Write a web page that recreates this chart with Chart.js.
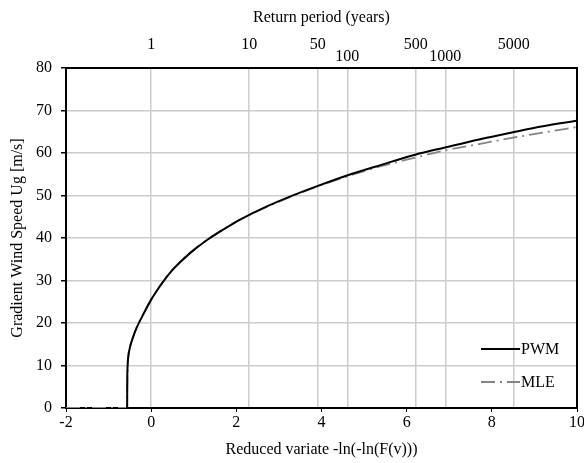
<!DOCTYPE html>
<html>
<head>
<meta charset="utf-8">
<script src="https://cdn.jsdelivr.net/npm/chart.js@4/dist/chart.umd.min.js"></script>
<style>
  html, body { margin: 0; padding: 0; background: #fff; }
  #wrap { width: 584px; height: 463px; }
</style>
</head>
<body>
<div id="wrap"><canvas id="gumbelChart" width="584" height="463"></canvas></div>
<script>
// reduced variate and gradient wind speed
const variatePwm = [-0.564, -0.562, -0.555, -0.54, -0.50, -0.43, -0.34, -0.16, 0, 0.21, 0.33, 0.53, 0.92, 1.32, 1.71, 2.1, 2.58, 3.3, 3.9, 4.6, 5.4, 6.2, 6.9, 7.7, 8.5, 9.2, 10];
const speedPwm = [0, 5.5, 9.5, 11.8, 14.2, 16.5, 18.9, 22.5, 25.5, 28.7, 30.4, 32.8, 36.5, 39.6, 42.1, 44.4, 46.8, 49.9, 52.2, 54.7, 57.2, 59.6, 61.3, 63.2, 64.9, 66.3, 67.6];

const variateMle = [-2, -0.566, -0.564, -0.56, -0.553, -0.54, -0.50, -0.43, -0.34, -0.16, 0, 0.21, 0.33, 0.53, 0.92, 1.32, 1.71, 2.1, 2.58, 3.3, 3.9, 4.6, 5.4, 6.2, 6.9, 7.7, 8.5, 9.2, 10];
const speedMle = [0, 0, 3, 6, 9, 11.9, 14.3, 16.6, 19.0, 22.6, 25.6, 28.8, 30.5, 32.9, 36.6, 39.6, 42.1, 44.4, 46.7, 49.8, 52.1, 54.5, 56.9, 58.9, 60.6, 62.1, 63.6, 64.8, 66.1];

// return periods shown on the top axis
const returnPeriods = [1, 10, 50, 100, 500, 1000, 5000];
const loweredPeriods = [100, 1000];

const serif = "'Liberation Serif', 'Times New Roman', serif";
const toPoints = (xs, ys) => xs.map((x, i) => ({ x: x, y: ys[i] }));

// black frame round the plot area
const frame = {
    id: 'frame',
    beforeDatasetsDraw(chart) {
        const a = chart.chartArea;
        const ctx = chart.ctx;
        ctx.save();
        ctx.strokeStyle = '#000';
        ctx.lineWidth = 2;
        ctx.strokeRect(a.left, a.top, a.right - a.left, a.bottom - a.top);
        ctx.restore();
    }
};

// legend inside the bottom right corner
const innerLegend = {
    id: 'innerLegend',
    afterDatasetsDraw(chart) {
        const a = chart.chartArea;
        const ctx = chart.ctx;
        ctx.save();
        ctx.font = '16px ' + serif;
        ctx.textBaseline = 'middle';
        ctx.fillStyle = '#000';
        chart.data.datasets.forEach((ds, i) => {
            const y = a.bottom - 59 + i * 33;
            ctx.beginPath();
            ctx.setLineDash(ds.borderDash || []);
            ctx.strokeStyle = ds.borderColor;
            ctx.lineWidth = ds.borderWidth;
            ctx.moveTo(a.right - 96, y);
            ctx.lineTo(a.right - 57, y);
            ctx.stroke();
            ctx.setLineDash([]);
            ctx.fillText(ds.label, a.right - 56, y + 1);
        });
        ctx.restore();
    }
};

new Chart(document.getElementById('gumbelChart'), {
    type: 'line',
    data: {
        datasets: [{
            label: 'PWM',
            data: toPoints(variatePwm, speedPwm),
            borderColor: '#000',
            borderWidth: 2,
            pointRadius: 0,
            cubicInterpolationMode: 'monotone',
            xAxisID: 'x',
        }, {
            label: 'MLE',
            data: toPoints(variateMle, speedMle),
            borderColor: '#858585',
            borderWidth: 1.8,
            borderDash: [14, 5, 2, 5],
            pointRadius: 0,
            cubicInterpolationMode: 'monotone',
            xAxisID: 'x',
        }]
    },
    options: {
        responsive: false,
        animation: false,
        layout: { padding: { top: 8, left: 8, bottom: 4, right: 0 } },
        plugins: {
            legend: { display: false },
            tooltip: { enabled: false }
        },
        scales: {
            x: {
                type: 'linear',
                position: 'bottom',
                min: -2,
                max: 10,
                afterFit(scale) {
                    scale.height = 51;
                    scale.paddingRight = 7;
                },
                ticks: { stepSize: 2, color: '#000', padding: 1, font: { family: serif, size: 16 } },
                grid: { drawOnChartArea: false, drawTicks: true, tickLength: 4, tickColor: '#000' },
                border: { display: false },
                title: {
                    display: true,
                    text: 'Reduced variate -ln(-ln(F(v)))',
                    color: '#000',
                    font: { family: serif, size: 16 },
                    padding: { top: 8, bottom: 0 }
                }
            },
            x2: {
                type: 'linear',
                position: 'top',
                min: -2,
                max: 10,
                afterBuildTicks(scale) {
                    scale.ticks = returnPeriods.map(T => ({ value: Math.log(T) }));
                },
                afterFit(scale) {
                    scale.height = 60;
                    scale.paddingRight = 7;
                },
                ticks: {
                    autoSkip: false,
                    maxRotation: 0,
                    color: '#000',
                    padding: 5,
                    font: { family: serif, size: 16, lineHeight: '12px' },
                    callback(value, index) {
                        const T = returnPeriods[index];
                        return loweredPeriods.includes(T) ? String(T) : [String(T), ''];
                    }
                },
                grid: { color: '#cccccc', lineWidth: 1.5, drawTicks: false },
                border: { display: false },
                title: {
                    display: true,
                    text: 'Return period (years)',
                    color: '#000',
                    font: { family: serif, size: 16 },
                    padding: { top: 0, bottom: 12 }
                }
            },
            y: {
                min: 0,
                max: 80,
                afterFit(scale) {
                    scale.width = 58;
                },
                ticks: { stepSize: 10, color: '#000', padding: 9, font: { family: serif, size: 16 } },
                grid: { color: '#cccccc', lineWidth: 1.5, tickLength: 5, tickColor: '#000' },
                border: { display: false },
                title: {
                    display: true,
                    text: 'Gradient Wind Speed Ug [m/s]',
                    color: '#000',
                    font: { family: serif, size: 16 },
                    padding: { top: 0, bottom: 6 }
                }
            }
        }
    },
    plugins: [frame, innerLegend]
});
</script>
</body>
</html>
